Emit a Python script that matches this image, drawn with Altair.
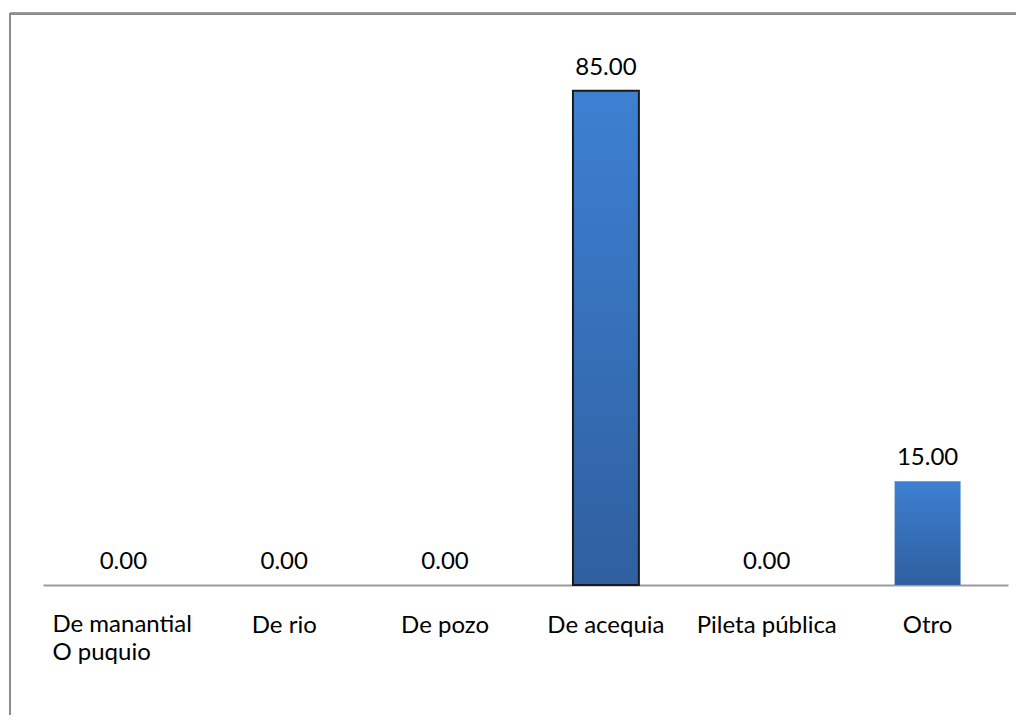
import altair as alt
import pandas as pd

categories = ["De manantial", "De rio", "De pozo", "De acequia", "Pileta pública", "Otro"]
axis_labels = ["De manantial\nO puquio", "De rio", "De pozo", "De acequia", "Pileta pública", "Otro"]
values = [0.0, 0.0, 0.0, 85.0, 0.0, 15.0]
outlined = ["De acequia"]

df = pd.DataFrame({
    "category": categories,
    "label": axis_labels,
    "value": values,
    "outlined": [c in outlined for c in categories],
})

FONT = "Lato"

x = alt.X(
    "category:N",
    sort=categories,
    scale=alt.Scale(paddingInner=0.59, paddingOuter=0.295),
    axis=alt.Axis(
        title=None, labels=False, ticks=False,
        domainColor="#9b9b9b", domainWidth=2,
    ),
)
y = alt.Y(
    "value:Q",
    scale=alt.Scale(type="pow", exponent=0.9, domain=[0, 100], nice=False),
    axis=None,
)

base = alt.Chart(df)

grad = alt.LinearGradient(
    gradient="linear",
    stops=[
        alt.GradientStop(color="#3d80d2", offset=0),
        alt.GradientStop(color="#2f5f9f", offset=1),
    ],
    x1=0, x2=0, y1=0, y2=1,
)

bars = base.mark_bar(color=grad).encode(
    x=x,
    y=y,
    stroke=alt.condition("datum.outlined", alt.value("#1a1a1a"), alt.value("transparent")),
    strokeWidth=alt.condition("datum.outlined", alt.value(2), alt.value(0)),
)

value_labels = base.mark_text(
    font=FONT, fontSize=24, color="#000000", baseline="alphabetic", dy=-16
).encode(
    x=x,
    y=y,
    text=alt.Text("value:Q", format=".2f"),
)

cat_labels = base.transform_filter("datum.category != 'De manantial'").mark_text(
    font=FONT, fontSize=24, color="#000000", baseline="alphabetic", align="center"
).encode(
    x=x,
    y=alt.value(620),
    text="label:N",
)

first_label = base.transform_filter("datum.category == 'De manantial'").mark_text(
    font=FONT, fontSize=24, color="#000000", baseline="alphabetic", align="left",
    lineBreak="\n", lineHeight=28, dx=-71,
).encode(
    x=x,
    y=alt.value(619),
    text="label:N",
)

frame_top = base.mark_rule(color="#8c8c8c", strokeWidth=2).encode(
    x=alt.value(-33), x2=alt.value(990), y=alt.value(0.7)
)
frame_left = base.mark_rule(color="#8c8c8c", strokeWidth=2).encode(
    x=alt.value(-33), y=alt.value(0), y2=alt.value(720)
)

chart = alt.layer(
    frame_top, frame_left, bars, value_labels, cat_labels, first_label
).properties(
    width=965,
    height=572,
    autosize=alt.AutoSizeParams(type="none"),
    padding={"left": 35, "top": 5, "right": 8, "bottom": 130},
).configure_view(stroke=None)

chart.save("out.html", embed_options={"renderer": "svg", "actions": False})
